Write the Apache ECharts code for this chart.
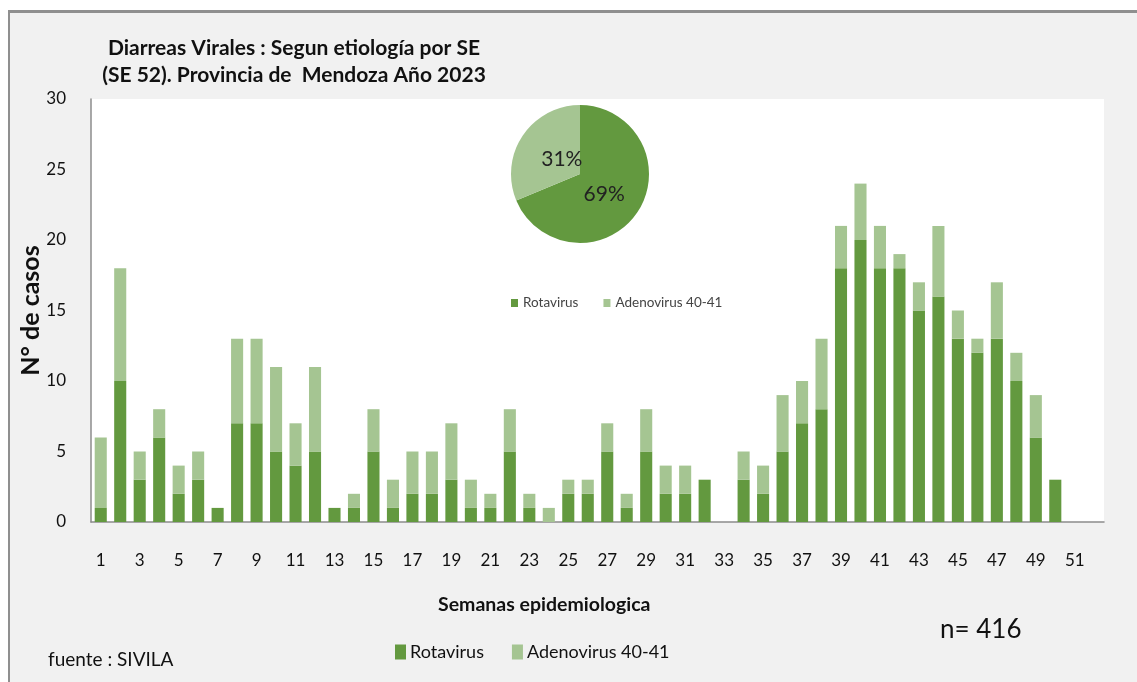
<!DOCTYPE html>
<html>
<head>
<meta charset="utf-8">
<script src="https://cdn.jsdelivr.net/npm/echarts@6/dist/echarts.min.js"></script>
<style>
  *{ margin:0; padding:0; }
  body{ background:#fff; width:1137px; height:682px; overflow:hidden; }
  #frame{
    position:absolute; left:8px; top:10px; width:1140px; height:690px;
    background:#f1f1f1; border-left:2px solid #8f8f8f; border-top:3px solid #8f8f8f;
  }
  #chart{ position:absolute; left:0; top:0; width:1137px; height:682px; }
</style>
</head>
<body>
<div id="frame"></div>
<div id="chart"></div>
<script>
// semanas epidemiologicas 1..52
const semanas = [];
for (let i = 1; i <= 52; i++) semanas.push(String(i));

const rotavirus = [1,10,3,6,2,3,1,7,7,5,4,5,1,1,5,1,2,2,3,1,1,5,1,0,2,2,5,1,5,2,2,3,0,3,2,5,7,8,18,20,18,18,15,16,13,12,13,10,6,3,0,0];
const adenovirus = [5,8,2,2,2,2,0,6,6,6,3,6,0,1,3,2,3,3,4,2,1,3,1,1,1,1,2,1,3,2,2,0,0,2,2,4,3,5,3,4,3,1,2,5,2,1,4,2,3,0,0,0];
const yTicks = [0, 5, 10, 15, 20, 25, 30];

const colRota = '#63993f';
const colAdeno = '#a5c592';
const fontFam = 'Lato, "Open Sans", sans-serif';

const sum = a => a.reduce((s, v) => s + v, 0);
const totalCasos = sum(rotavirus) + sum(adenovirus);

let chart = echarts.init(document.getElementById('chart'));

chart.setOption({
  animation: false,
  textStyle: { fontFamily: fontFam },
  title: {
    text: 'Diarreas Virales : Segun etiología por SE\n(SE 52). Provincia de  Mendoza Año 2023',
    left: 289,
    top: 30,
    textAlign: 'center',
    textStyle: { fontSize: 21, fontWeight: 'bold', color: '#111', lineHeight: 27, fontFamily: fontFam }
  },
  legend: [
    {
      data: ['Rotavirus', 'Adenovirus 40-41'],
      left: 390, top: 638,
      itemWidth: 11, itemHeight: 15, itemGap: 28,
      icon: 'rect',
      textStyle: { fontSize: 18, color: '#111', padding: [0, 0, 0, -1] }
    },
    {
      data: ['Rotavirus', 'Adenovirus 40-41'],
      left: 506, top: 291,
      itemWidth: 7, itemHeight: 8, itemGap: 25,
      icon: 'rect',
      textStyle: { fontSize: 13.5, color: '#444' }
    }
  ],
  grid: {
    left: 91, top: 99, right: 33, bottom: 160,
    show: true, backgroundColor: '#ffffff', borderWidth: 0
  },
  xAxis: {
    type: 'category',
    data: semanas,
    axisLine: { lineStyle: { color: '#8c8c8c', width: 1.5 } },
    axisTick: { show: false },
    axisLabel: { interval: 1, fontSize: 17, color: '#111', margin: 30 }
  },
  yAxis: {
    type: 'value',
    min: yTicks[0], max: yTicks[yTicks.length - 1], interval: 5,
    name: 'N° de casos',
    nameLocation: 'middle',
    nameRotate: 90,
    nameGap: 48,
    nameMoveOverlap: false,
    nameTextStyle: { fontSize: 25, fontWeight: 'bold', color: '#111' },
    axisLine: { show: true, lineStyle: { color: '#8c8c8c', width: 1.5 } },
    axisTick: { show: false },
    splitLine: { show: false },
    axisLabel: { fontSize: 17, color: '#111', margin: 25 }
  },
  graphic: [
    {
      type: 'text', left: 438, top: 595, z: 10,
      style: { text: 'Semanas epidemiologica', fontSize: 19.5, fontWeight: 'bold', fill: '#111', fontFamily: fontFam }
    },
    {
      type: 'text', left: 940, top: 617, z: 10,
      style: { text: 'n= ' + totalCasos, fontSize: 26, fill: '#111', fontFamily: fontFam }
    },
    {
      type: 'text', left: 48, top: 650, z: 10,
      style: { text: 'fuente : SIVILA', fontSize: 19, fill: '#111', fontFamily: fontFam }
    }
  ],
  series: [
    {
      name: 'Rotavirus', type: 'bar', stack: 'casos',
      data: rotavirus, barWidth: '62%',
      itemStyle: { color: colRota }
    },
    {
      name: 'Adenovirus 40-41', type: 'bar', stack: 'casos',
      data: adenovirus, barWidth: '62%',
      itemStyle: { color: colAdeno }
    },
    {
      name: 'Etiologia', type: 'pie',
      center: [580, 174], radius: 69,
      startAngle: 90, clockwise: true,
      percentPrecision: 0,
      z: 5,
      label: { show: true, position: 'inside', formatter: '{d}%', fontSize: 21, color: '#222' },
      labelLine: { show: false },
      data: [
        { name: 'Rotavirus', value: sum(rotavirus), itemStyle: { color: colRota }, label: { offset: [-7, -1] } },
        { name: 'Adenovirus 40-41', value: sum(adenovirus), itemStyle: { color: colAdeno }, label: { offset: [13, 6] } }
      ]
    }
  ]
});
</script>
</body>
</html>
